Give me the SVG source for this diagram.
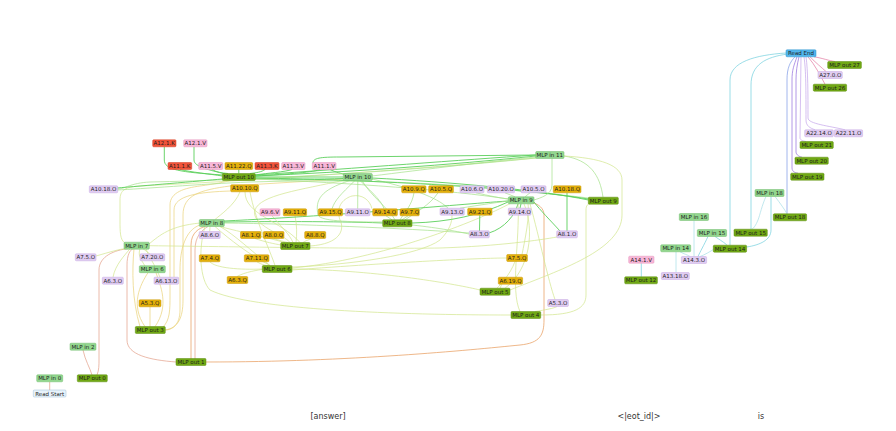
<svg xmlns="http://www.w3.org/2000/svg" width="896" height="431" viewBox="0 0 896 431">
<style>
.e{fill:none;stroke-width:0.8;opacity:0.9}
.c0{stroke:#e3a08a}.c1{stroke:#e89a5a}.c2{stroke:#ead27a}.c3{stroke:#d2e68e}.c4{stroke:#a6e28c}.c5{stroke:#5ccf5c;stroke-width:1}
.c6{stroke:#74d0de}.c7{stroke:#a9dfe8}.c8{stroke:#7f9be6}.c9{stroke:#9470dc}.c10{stroke:#c5a6ea}.c11{stroke:#e37aa2}
.node rect{stroke-width:0.5;rx:1}
.node text{font-family:"DejaVu Sans",Verdana,sans-serif;font-size:5.5px;fill:#1e1e1e;text-anchor:middle}
.mi rect{fill:#92d68e;stroke:#70bd6c}
.mo rect{fill:#70a814;stroke:#5a8c0a}
.ao rect{fill:#e0ccf2;stroke:#c6a8e2}
.aq rect{fill:#e4b00a;stroke:#c89600}
.ak rect{fill:#f2543a;stroke:#d03a22}
.av rect{fill:#f8b6d8;stroke:#e294bc}
.rs rect{fill:#e8f3fb;stroke:#9fbfd6}
.re rect{fill:#52b6ec;stroke:#2e92cc}
.tok{font-family:"DejaVu Sans",Verdana,sans-serif;font-size:8px;fill:#333333;text-anchor:middle}
</style>
<rect width="896" height="431" fill="#ffffff"/>
<g id="connectors">
<path class="e c0" d="M49.7 390 L49.7 381.8"/>
<path class="e c0" d="M83 350 C85 360,90 368,92 375"/>
<path class="e c0" d="M97 375 C99 370,99 365,99 360 L99 270 C99 256,115 250,128 248.7"/>
<path class="e c0" d="M176 362 C150 360,127 355,127 340 L127 265 C127 255,130 250,133 248.7"/>
<path class="e c1" d="M191 359 L191 245 C191 232,200 228,205 226.5"/>
<path class="e c0" d="M195 359 L195 250 C195 236,202 230,208 226.5"/>
<path class="e c1" d="M205.7 362 C350 362,470 350,520 345 C540 343,544 335,544 320 L544 215 C544 208,538 204,533 203"/>
<path class="e c2" d="M150 306.7 L150 326.7"/>
<path class="e c2" d="M145 326.7 C130 305,140 285,148 272.7"/>
<path class="e c2" d="M155 326.7 C170 305,160 285,156 272.7"/>
<path class="e c2" d="M140 326.7 C132 300,132 270,134 248.7"/>
<path class="e c2" d="M165 330 C178 328,183 318,183 300 L183 215 C183 195,200 190,230 186 L343 179"/>
<path class="e c2" d="M163 327 C170 320,170 310,170 295 L170 205 C170 192,185 188,200 186 C215 184,225 182,230 180.5"/>
<path class="e c2" d="M174 277 C174 250,174 230,174 210 C174 195,200 192,230.7 191"/>
<path class="e c3" d="M96 256 C110 252,120 249,125 248.7"/>
<path class="e c3" d="M113 277.3 C115 265,125 255,130 248.7"/>
<path class="e c3" d="M150 254 C147 252,145 250,143 248.7"/>
<path class="e c3" d="M145 266 C140 258,138 255,140 248.7"/>
<path class="e c3" d="M160 277.3 C155 265,148 255,146 248.7"/>
<path class="e c3" d="M125 243 C120 240,120 232,120 220 L120 200 C120 190,125 187,140 186 C200 183,350 175,536 158"/>
<path class="e c3" d="M149 245.7 C250 247,380 249,440 248 C500 246,540 240,557 237"/>
<path class="e c3" d="M209.7 231.5 L210 226.5"/>
<path class="e c4" d="M224 223 C300 224,400 228,469 233"/>
<path class="e c5" d="M224 222 C300 221,360 222,382.7 223"/>
<path class="e c3" d="M220 226.5 C240 232,270 238,285 242.7"/>
<path class="e c3" d="M215 226.5 C230 240,250 255,270 265.5"/>
<path class="e c3" d="M200 223 C170 226,160 235,149 244"/>
<path class="e c2" d="M200 225 C185 230,180 250,180 270 L180 310 C180 325,172 330,165.3 330"/>
<path class="e c3" d="M210 261.8 C215 268,240 270,262.3 269"/>
<path class="e c3" d="M257 261.8 C262 265,268 266,270 265.5"/>
<path class="e c3" d="M237 276.5 C245 272,258 270,265 269"/>
<path class="e c3" d="M270 265.5 C250 250,235 235,220 226.5"/>
<path class="e c3" d="M292 269 C380 270,460 285,480 290"/>
<path class="e c3" d="M292 268 C380 260,480 220,510 203.5"/>
<path class="e c3" d="M292 270 C400 262,480 258,506.7 258"/>
<path class="e c3" d="M272 215.8 C280 225,290 235,293 242.5"/>
<path class="e c3" d="M295 215.8 C297 225,297 235,296 242.5"/>
<path class="e c3" d="M274 238.5 C278 240,285 242,288 242.5"/>
<path class="e c3" d="M312 238.5 C308 240,305 241,303 242.5"/>
<path class="e c3" d="M255 238.5 C265 242,275 244,281 245"/>
<path class="e c3" d="M245 191.8 C245 215,280 220,300 242.5"/>
<path class="e c3" d="M345 180 C300 190,260 195,255 210 C250 225,285 235,290 242.5"/>
<path class="e c3" d="M240 191.8 C235 205,220 215,215 219.5"/>
<path class="e c3" d="M250 191.8 C255 220,270 250,275 265.5"/>
<path class="e c3" d="M511 315 C400 315,250 310,210 290 C200 280,198 250,205 226.5"/>
<path class="e c3" d="M292 267 C350 265,420 255,440 240 C450 230,452 222,452 215.2"/>
<path class="e c3" d="M310 246 C340 244,345 230,340 220 C335 205,345 198,352 196 C362 194,370 200,372 208.8"/>
<path class="e c4" d="M386 215.8 L392 219.8"/>
<path class="e c4" d="M408 215.8 L402 219.8"/>
<path class="e c4" d="M414 192.8 C412 205,405 212,400 219.8"/>
<path class="e c4" d="M438 192.8 C430 205,415 213,405 219.8"/>
<path class="e c5" d="M412 223 C450 222,480 215,508 202"/>
<path class="e c4" d="M357.8 180.5 L357.7 208.8"/>
<path class="e c4" d="M362 180.5 C370 195,390 210,395 219.8"/>
<path class="e c4" d="M372 179 C420 190,440 200,448 208.2"/>
<path class="e c4" d="M412 225 C440 228,460 232,469 234"/>
<path class="e c5" d="M224 221 C350 215,450 205,508 201"/>
<path class="e c4" d="M355 180.5 C340 195,335 200,332 208.8"/>
<path class="e c4" d="M360 180.5 C375 195,382 202,384 208.8"/>
<path class="e c4" d="M350 180.5 C320 190,315 200,318 215 C320 222,360 222,382.7 222"/>
<path class="e c5" d="M164.3 146.8 L164.3 160 C164.3 170,180 172,222.3 175"/>
<path class="e c5" d="M194 146.8 L194 160 C194 167,210 170,225 174"/>
<path class="e c5" d="M180 169.5 C190 172,210 174,222.3 176"/>
<path class="e c5" d="M212 169.5 C216 172,222 173,228 173.5"/>
<path class="e c5" d="M238.8 169.5 L238.8 173.5"/>
<path class="e c5" d="M265 169.5 C262 172,255 173,250 173.5"/>
<path class="e c5" d="M292 169.5 C285 172,268 173,255.3 175"/>
<path class="e c5" d="M320 169.5 C315 172,290 174,255.3 176"/>
<path class="e c5" d="M330 169.5 C335 172,343 174,345 174.5"/>
<path class="e c5" d="M313 163 C313 158,320 157,340 157 L535.7 155"/>
<path class="e c5" d="M255.3 177 L343.3 177"/>
<path class="e c5" d="M255.3 178.5 C290 180,320 179,343.3 178.5"/>
<path class="e c5" d="M255 176 C350 172,450 165,536 156"/>
<path class="e c5" d="M255 175 C360 168,460 160,536 155"/>
<path class="e c4" d="M372 176 C420 170,500 160,536 157"/>
<path class="e c4" d="M117.7 189 C125 189,130 183,150 182 C250 180,400 172,536 158"/>
<path class="e c5" d="M117 188 C140 186,200 181,222.3 179"/>
<path class="e c4" d="M117 190 C140 189,200 184,250 182 C380 178,480 185,588.3 198"/>
<path class="e c5" d="M255 178 C380 180,520 188,588.3 199"/>
<path class="e c5" d="M372 178 C450 182,540 190,588.3 200"/>
<path class="e c4" d="M255 179 C350 183,450 190,508.3 199"/>
<path class="e c4" d="M564 156 C590 160,600 175,603 197.2"/>
<path class="e c4" d="M552 158.5 L552 185 C552 195,540 198,534 200"/>
<path class="e c3" d="M510 290 C560 270,622 250,622 215 L622 180 C622 165,600 158,564 156"/>
<path class="e c3" d="M540.7 315 C575 315,586 308,586 295 L586 210 C586 205,588 204,590 204"/>
<path class="e c5" d="M520 208.2 L521 203.8"/>
<path class="e c5" d="M479.8 215.2 L479.5 231"/>
<path class="e c5" d="M489 233 C505 228,515 215,518 203.8"/>
<path class="e c4" d="M460 208.2 C480 205,500 202,508.3 201"/>
<path class="e c5" d="M560 231 C550 220,540 210,534 202"/>
<path class="e c5" d="M567 192.8 L567 231"/>
<path class="e c4" d="M530 192.8 L525 196.8"/>
<path class="e c4" d="M505 192.8 L515 196.8"/>
<path class="e c4" d="M476 192.8 C490 196,500 198,508.3 199"/>
<path class="e c3" d="M522 254.5 C525 240,530 215,528 203.8"/>
<path class="e c3" d="M515 261.5 C510 275,500 285,497 288.2"/>
<path class="e c3" d="M505 277.2 L500 288.2"/>
<path class="e c3" d="M555 299.5 C548 280,540 240,530 203.8"/>
<path class="e c3" d="M505 288.2 C530 270,535 230,524 203.8"/>
<path class="e c3" d="M535 311.5 C545 310,555 308,557 306.5"/>
<path class="e c3" d="M520 311.5 C510 290,520 240,518 203.8"/>
<path class="e c6" d="M786 53 C755 55,730 62,730 80 L730 245.2"/>
<path class="e c6" d="M788 54 C765 57,751 65,751 85 L751 229.2"/>
<path class="e c8" d="M795 56.8 C790 62,787 68,787 80 L787 213.8"/>
<path class="e c9" d="M797 56.8 C794 65,792 70,792 80 L792 168 C792 172,796 173,798 173.2"/>
<path class="e c9" d="M799 56.8 C797 65,796 72,796 80 L796 152 C796 155,800 157,802 157.2"/>
<path class="e c10" d="M801 56.8 L800 138 C800 140,803 141,806 141.5"/>
<path class="e c10" d="M804 56.8 C806 70,806 90,806 120 C806 126,810 128,815 129.8"/>
<path class="e c10" d="M806 56.8 C808 70,808 95,808 118 C808 124,830 126,845 129.8"/>
<path class="e c11" d="M808 56.8 C815 65,820 75,825 84.2"/>
<path class="e c11" d="M810 56.8 C815 62,822 68,826 71.5"/>
<path class="e c11" d="M814 56.8 C822 58,830 61,835 61.5"/>
<path class="e c7" d="M766 196.5 C762 205,760 215,758 220 C756 225,754 228,752 229.2"/>
<path class="e c6" d="M771 196.5 L771 230 C771 240,760 245,746.7 247"/>
<path class="e c7" d="M775 196.5 C780 203,785 210,787 213.8"/>
<path class="e c7" d="M694 220.5 L694 256.5"/>
<path class="e c6" d="M708 236.5 C704 245,700 252,698 256.5"/>
<path class="e c6" d="M715 236.5 C720 240,725 243,727 245.2"/>
<path class="e c7" d="M680 251.8 C684 254,688 255,690 256.5"/>
<path class="e c7" d="M676 272.5 L676 251.8"/>
<path class="e c7" d="M717 247 C710 252,704 255,700 256.5"/>
<path class="e c6" d="M641.3 263.2 L641.3 276.8"/>
</g>
<g id="n-read-start" class="node rs"><rect x="33.3" y="390" width="32.7" height="7"/><text x="49.7" y="395.5">Read Start</text></g>
<g id="n-mlp-in-0" class="node mi"><rect x="36.7" y="374.8" width="26" height="7"/><text x="49.7" y="380.3">MLP in 0</text></g>
<g id="n-mlp-out-0" class="node mo"><rect x="77.3" y="374.8" width="30" height="7"/><text x="92.3" y="380.3">MLP out 0</text></g>
<g id="n-mlp-in-2" class="node mi"><rect x="70" y="343.2" width="26" height="7"/><text x="83" y="348.7">MLP in 2</text></g>
<g id="n-mlp-out-1" class="node mo"><rect x="176" y="358.5" width="30" height="7"/><text x="191" y="364">MLP out 1</text></g>
<g id="n-mlp-out-3" class="node mo"><rect x="135.3" y="326.5" width="30" height="7"/><text x="150.3" y="332">MLP out 3</text></g>
<g id="n-a5-3-q" class="node aq"><rect x="139" y="299.8" width="22" height="7"/><text x="150" y="305.3">A5.3.Q</text></g>
<g id="n-mlp-in-6" class="node mi"><rect x="139.3" y="265.7" width="26" height="7"/><text x="152.3" y="271.2">MLP in 6</text></g>
<g id="n-a6-3-o" class="node ao"><rect x="102.3" y="277.2" width="21" height="7"/><text x="112.8" y="282.7">A6.3.O</text></g>
<g id="n-a6-13-o" class="node ao"><rect x="154" y="277.2" width="24.7" height="7"/><text x="166.3" y="282.7">A6.13.O</text></g>
<g id="n-a7-5-o" class="node ao"><rect x="75.3" y="253.8" width="20.7" height="7"/><text x="85.7" y="259.3">A7.5.O</text></g>
<g id="n-mlp-in-7" class="node mi"><rect x="124" y="242.2" width="25.3" height="7"/><text x="136.7" y="247.7">MLP in 7</text></g>
<g id="n-a7-20-o" class="node ao"><rect x="140" y="253.8" width="24.7" height="7"/><text x="152.3" y="259.3">A7.20.O</text></g>
<g id="n-a8-6-o" class="node ao"><rect x="199.2" y="231.5" width="21" height="7"/><text x="209.7" y="237">A8.6.O</text></g>
<g id="n-mlp-in-8" class="node mi"><rect x="199.3" y="219.5" width="25" height="7"/><text x="211.8" y="225">MLP in 8</text></g>
<g id="n-a8-1-q" class="node aq"><rect x="240.5" y="231.5" width="20.5" height="7"/><text x="250.8" y="237">A8.1.Q</text></g>
<g id="n-a8-0-q" class="node aq"><rect x="263.3" y="231.5" width="20.7" height="7"/><text x="273.7" y="237">A8.0.Q</text></g>
<g id="n-a8-8-q" class="node aq"><rect x="304.7" y="231.5" width="21" height="7"/><text x="315.2" y="237">A8.8.Q</text></g>
<g id="n-mlp-out-7" class="node mo"><rect x="280.7" y="242.5" width="29.3" height="7"/><text x="295.3" y="248">MLP out 7</text></g>
<g id="n-a7-4-q" class="node aq"><rect x="199.3" y="254.8" width="20.7" height="7"/><text x="209.7" y="260.3">A7.4.Q</text></g>
<g id="n-a7-11-q" class="node aq"><rect x="244.3" y="254.8" width="24.7" height="7"/><text x="256.7" y="260.3">A7.11.Q</text></g>
<g id="n-mlp-out-6" class="node mo"><rect x="262.3" y="265.5" width="29.7" height="7"/><text x="277.2" y="271">MLP out 6</text></g>
<g id="n-a6-3-q" class="node aq"><rect x="227.2" y="276.5" width="20.5" height="7"/><text x="237.5" y="282">A6.3.Q</text></g>
<g id="n-a10-18-o" class="node ao"><rect x="89.3" y="185.8" width="28.4" height="7"/><text x="103.5" y="191.3">A10.18.O</text></g>
<g id="n-a12-1-k" class="node ak"><rect x="152.7" y="139.8" width="23.3" height="7"/><text x="164.3" y="145.3">A12.1.K</text></g>
<g id="n-a12-1-v" class="node av"><rect x="183.7" y="139.8" width="23.3" height="7"/><text x="195.3" y="145.3">A12.1.V</text></g>
<g id="n-a11-1-k" class="node ak"><rect x="168" y="162.5" width="23.7" height="7"/><text x="179.8" y="168">A11.1.K</text></g>
<g id="n-a11-5-v" class="node av"><rect x="198.7" y="162.5" width="24" height="7"/><text x="210.7" y="168">A11.5.V</text></g>
<g id="n-a11-22-q" class="node aq"><rect x="225" y="162.5" width="27.7" height="7"/><text x="238.8" y="168">A11.22.Q</text></g>
<g id="n-a11-3-k" class="node ak"><rect x="255" y="162.5" width="24" height="7"/><text x="267" y="168">A11.3.K</text></g>
<g id="n-a11-3-v" class="node av"><rect x="281.7" y="162.5" width="23.3" height="7"/><text x="293.3" y="168">A11.3.V</text></g>
<g id="n-a11-1-v" class="node av"><rect x="312.3" y="162.5" width="23.7" height="7"/><text x="324.2" y="168">A11.1.V</text></g>
<g id="n-mlp-out-10" class="node mo"><rect x="222.3" y="173.5" width="33" height="7"/><text x="238.8" y="179">MLP out 10</text></g>
<g id="n-mlp-in-10" class="node mi"><rect x="343.3" y="173.5" width="29" height="7"/><text x="357.8" y="179">MLP in 10</text></g>
<g id="n-a10-10-q" class="node aq"><rect x="230.7" y="184.8" width="28" height="7"/><text x="244.7" y="190.3">A10.10.Q</text></g>
<g id="n-a9-6-v" class="node av"><rect x="260" y="208.8" width="20" height="7"/><text x="270" y="214.3">A9.6.V</text></g>
<g id="n-a9-11-q" class="node aq"><rect x="283.3" y="208.8" width="23.3" height="7"/><text x="295" y="214.3">A9.11.Q</text></g>
<g id="n-a9-15-q" class="node aq"><rect x="318.3" y="208.8" width="24.3" height="7"/><text x="330.5" y="214.3">A9.15.Q</text></g>
<g id="n-a9-11-o" class="node ao"><rect x="345.3" y="208.8" width="24.7" height="7"/><text x="357.7" y="214.3">A9.11.O</text></g>
<g id="n-a9-14-q" class="node aq"><rect x="372.7" y="208.8" width="24.7" height="7"/><text x="385" y="214.3">A9.14.Q</text></g>
<g id="n-a9-7-q" class="node aq"><rect x="400" y="208.8" width="19.3" height="7"/><text x="409.7" y="214.3">A9.7.Q</text></g>
<g id="n-mlp-out-8" class="node mo"><rect x="382.7" y="219.8" width="29.3" height="7"/><text x="397.3" y="225.3">MLP out 8</text></g>
<g id="n-mlp-in-11" class="node mi"><rect x="535.7" y="151.5" width="28.3" height="7"/><text x="549.8" y="157">MLP in 11</text></g>
<g id="n-a10-9-q" class="node aq"><rect x="401.7" y="185.8" width="24.3" height="7"/><text x="413.8" y="191.3">A10.9.Q</text></g>
<g id="n-a10-5-q" class="node aq"><rect x="428.7" y="185.8" width="24.7" height="7"/><text x="441" y="191.3">A10.5.Q</text></g>
<g id="n-a10-6-o" class="node ao"><rect x="460" y="185.8" width="24" height="7"/><text x="472" y="191.3">A10.6.O</text></g>
<g id="n-a10-20-o" class="node ao"><rect x="487.3" y="185.8" width="27.3" height="7"/><text x="501" y="191.3">A10.20.O</text></g>
<g id="n-a10-5-o" class="node ao"><rect x="521" y="185.8" width="25" height="7"/><text x="533.5" y="191.3">A10.5.O</text></g>
<g id="n-a10-18-q" class="node aq"><rect x="553.3" y="185.8" width="27.7" height="7"/><text x="567.2" y="191.3">A10.18.Q</text></g>
<g id="n-mlp-out-9" class="node mo"><rect x="588.3" y="197.2" width="30" height="7"/><text x="603.3" y="202.7">MLP out 9</text></g>
<g id="n-mlp-in-9" class="node mi"><rect x="508.3" y="196.8" width="25.7" height="7"/><text x="521.2" y="202.3">MLP in 9</text></g>
<g id="n-a9-13-o" class="node ao"><rect x="440" y="208.2" width="24.3" height="7"/><text x="452.2" y="213.7">A9.13.O</text></g>
<g id="n-a9-21-q" class="node aq"><rect x="467.7" y="208.2" width="24.3" height="7"/><text x="479.8" y="213.7">A9.21.Q</text></g>
<g id="n-a9-14-o" class="node ao"><rect x="508.3" y="208.2" width="22.7" height="7"/><text x="519.7" y="213.7">A9.14.O</text></g>
<g id="n-a8-3-o" class="node ao"><rect x="469.3" y="230.8" width="20" height="7"/><text x="479.3" y="236.3">A8.3.O</text></g>
<g id="n-a8-1-o" class="node ao"><rect x="556.7" y="230.8" width="20.7" height="7"/><text x="567" y="236.3">A8.1.O</text></g>
<g id="n-a7-5-q" class="node aq"><rect x="506.7" y="254.5" width="20.7" height="7"/><text x="517" y="260">A7.5.Q</text></g>
<g id="n-a6-19-q" class="node aq"><rect x="498.3" y="277.2" width="24.3" height="7"/><text x="510.5" y="282.7">A6.19.Q</text></g>
<g id="n-mlp-out-5" class="node mo"><rect x="480" y="288.2" width="30" height="7"/><text x="495" y="293.7">MLP out 5</text></g>
<g id="n-a5-3-o" class="node ao"><rect x="547.7" y="299.5" width="20.7" height="7"/><text x="558" y="305">A5.3.O</text></g>
<g id="n-mlp-out-4" class="node mo"><rect x="511" y="311.5" width="29.7" height="7"/><text x="525.8" y="317">MLP out 4</text></g>
<g id="n-read-end" class="node re"><rect x="786" y="49.8" width="30" height="7"/><text x="801" y="55.3">Read End</text></g>
<g id="n-mlp-out-27" class="node mo"><rect x="827.7" y="61.5" width="33.7" height="7"/><text x="844.5" y="67">MLP out 27</text></g>
<g id="n-a27-0-o" class="node ao"><rect x="818" y="71.5" width="24.3" height="7"/><text x="830.2" y="77">A27.0.O</text></g>
<g id="n-mlp-out-26" class="node mo"><rect x="813.3" y="84.2" width="33.3" height="7"/><text x="830" y="89.7">MLP out 26</text></g>
<g id="n-a22-14-o" class="node ao"><rect x="804.7" y="129.8" width="28.6" height="7"/><text x="819" y="135.3">A22.14.O</text></g>
<g id="n-a22-11-o" class="node ao"><rect x="834.3" y="129.8" width="28.3" height="7"/><text x="848.5" y="135.3">A22.11.O</text></g>
<g id="n-mlp-out-21" class="node mo"><rect x="800" y="141.5" width="33.3" height="7"/><text x="816.7" y="147">MLP out 21</text></g>
<g id="n-mlp-out-20" class="node mo"><rect x="795" y="157.2" width="33.3" height="7"/><text x="811.7" y="162.7">MLP out 20</text></g>
<g id="n-mlp-out-19" class="node mo"><rect x="790.7" y="173.2" width="33.3" height="7"/><text x="807.3" y="178.7">MLP out 19</text></g>
<g id="n-mlp-in-18" class="node mi"><rect x="755" y="189.5" width="29" height="7"/><text x="769.5" y="195">MLP in 18</text></g>
<g id="n-mlp-out-18" class="node mo"><rect x="773.3" y="213.8" width="33.3" height="7"/><text x="790" y="219.3">MLP out 18</text></g>
<g id="n-mlp-in-16" class="node mi"><rect x="679.3" y="213.5" width="29.3" height="7"/><text x="694" y="219">MLP in 16</text></g>
<g id="n-mlp-in-15" class="node mi"><rect x="697.3" y="229.5" width="29.3" height="7"/><text x="712" y="235">MLP in 15</text></g>
<g id="n-mlp-out-15" class="node mo"><rect x="734" y="229.2" width="33.3" height="7"/><text x="750.7" y="234.7">MLP out 15</text></g>
<g id="n-mlp-in-14" class="node mi"><rect x="660.7" y="244.8" width="30" height="7"/><text x="675.7" y="250.3">MLP in 14</text></g>
<g id="n-mlp-out-14" class="node mo"><rect x="713.3" y="245.2" width="33.3" height="7"/><text x="730" y="250.7">MLP out 14</text></g>
<g id="n-a14-3-o" class="node ao"><rect x="681.3" y="256.5" width="25.3" height="7"/><text x="694" y="262">A14.3.O</text></g>
<g id="n-a14-1-v" class="node av"><rect x="628.7" y="256.2" width="25.3" height="7"/><text x="641.3" y="261.7">A14.1.V</text></g>
<g id="n-a13-18-o" class="node ao"><rect x="661.3" y="272.5" width="28" height="7"/><text x="675.3" y="278">A13.18.O</text></g>
<g id="n-mlp-out-12" class="node mo"><rect x="624.7" y="276.8" width="32.7" height="7"/><text x="641" y="282.3">MLP out 12</text></g>
<g id="tokens">
<text class="tok" x="328" y="419">[answer]</text>
<text class="tok" x="639" y="419">&lt;|eot_id|&gt;</text>
<text class="tok" x="761" y="419">is</text>
</g>
</svg>
